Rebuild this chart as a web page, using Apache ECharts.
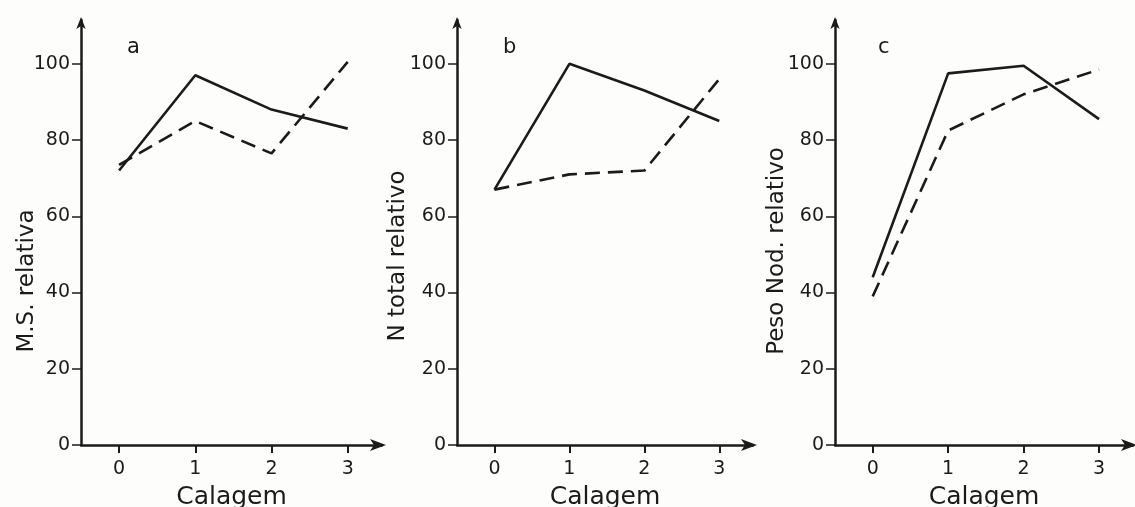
<!DOCTYPE html>
<html>
<head>
<meta charset="utf-8">
<script src="https://cdn.jsdelivr.net/npm/echarts@6/dist/echarts.min.js"></script>
<style>
html,body{margin:0;padding:0;background:#fdfdfb;}
#c{width:1135px;height:507px;}
</style>
</head>
<body>
<div id="c"></div>
<script>
// Data
const calagem = [0, 1, 2, 3];
const yTicks = [0, 20, 40, 60, 80, 100];
const panelLetters = ['a', 'b', 'c'];
const yNames = ['M.S. relativa', 'N total relativo', 'Peso Nod. relativo'];
const xName = 'Calagem';
const msSolid = [72, 97, 88, 83];
const msDashed = [73.5, 85, 76.5, 100.5];
const nSolid = [67, 100, 93, 85];
const nDashed = [67, 71, 72, 96];
const pesoSolid = [44, 97.5, 99.5, 85.5];
const pesoDashed = [39, 82.5, 92, 98.5];

const solids = [msSolid, nSolid, pesoSolid];
const dasheds = [msDashed, nDashed, pesoDashed];

const ink = '#1b1b1b';
const font = 'DejaVu Sans';
const grids = [
  {left: 81, top: 20, width: 301, height: 425, outerBoundsMode: 'none'},
  {left: 457, top: 20, width: 296, height: 425, outerBoundsMode: 'none'},
  {left: 835, top: 20, width: 298, height: 425, outerBoundsMode: 'none'}
];
const nameGaps = [42, 47, 46];
const nameShift = [97, 47, 37];
const letterPos = [122, 498, 873];

const pairs = (arr) => calagem.map((x, i) => [x, arr[i]]);

const option = {
  backgroundColor: '#fdfdfb',
  animation: false,
  title: panelLetters.map((t, i) => ({
    text: t, left: letterPos[i], top: 32,
    textStyle: {fontFamily: font, fontSize: 21, fontWeight: 'normal', color: ink}
  })),
  grid: grids,
  xAxis: grids.map((g, i) => ({
    type: 'value', gridIndex: i, min: -0.5, max: 3.45,
    name: xName, nameLocation: 'middle', nameGap: 40, nameMoveOverlap: false,
    nameTextStyle: {fontFamily: font, fontSize: 25, color: ink},
    axisLine: {show: true, onZero: false, symbol: ['none', 'arrow'], symbolSize: [9, 16], symbolOffset: [0, 4],
      lineStyle: {color: ink, width: 2.5}},
    axisTick: {show: true, length: 8, inside: false, customValues: calagem, lineStyle: {color: ink, width: 2}},
    axisLabel: {customValues: calagem, margin: 15, fontFamily: font, fontSize: 19, color: ink},
    splitLine: {show: false}
  })),
  yAxis: grids.map((g, i) => ({
    type: 'value', gridIndex: i, min: 0, max: 111.5,
    name: yNames[i], nameLocation: 'middle', nameGap: nameGaps[i], nameRotate: 90, nameMoveOverlap: false,
    nameTextStyle: {fontFamily: font, fontSize: 23, color: ink, padding: [0, nameShift[i], 0, 0]},
    axisLine: {show: true, onZero: false, symbol: ['none', 'arrow'], symbolSize: [7, 12], symbolOffset: [0, 3],
      lineStyle: {color: ink, width: 2.5}},
    axisTick: {show: true, length: 9, inside: false, customValues: yTicks, lineStyle: {color: ink, width: 1.5}},
    axisLabel: {customValues: yTicks, margin: 11, fontFamily: font, fontSize: 19, color: ink},
    splitLine: {show: false}
  })),
  series: [].concat(
    solids.map((s, i) => ({
      type: 'line', xAxisIndex: i, yAxisIndex: i, data: pairs(s),
      symbol: 'none', lineStyle: {color: ink, width: 2.6, type: 'solid'}, z: 3
    })),
    dasheds.map((s, i) => ({
      type: 'line', xAxisIndex: i, yAxisIndex: i, data: pairs(s),
      symbol: 'none', lineStyle: {color: ink, width: 2.6, type: [15, 8]}, z: 3
    }))
  )
};

echarts.init(document.getElementById('c'), null, {renderer: 'canvas'}).setOption(option);
</script>
</body>
</html>
